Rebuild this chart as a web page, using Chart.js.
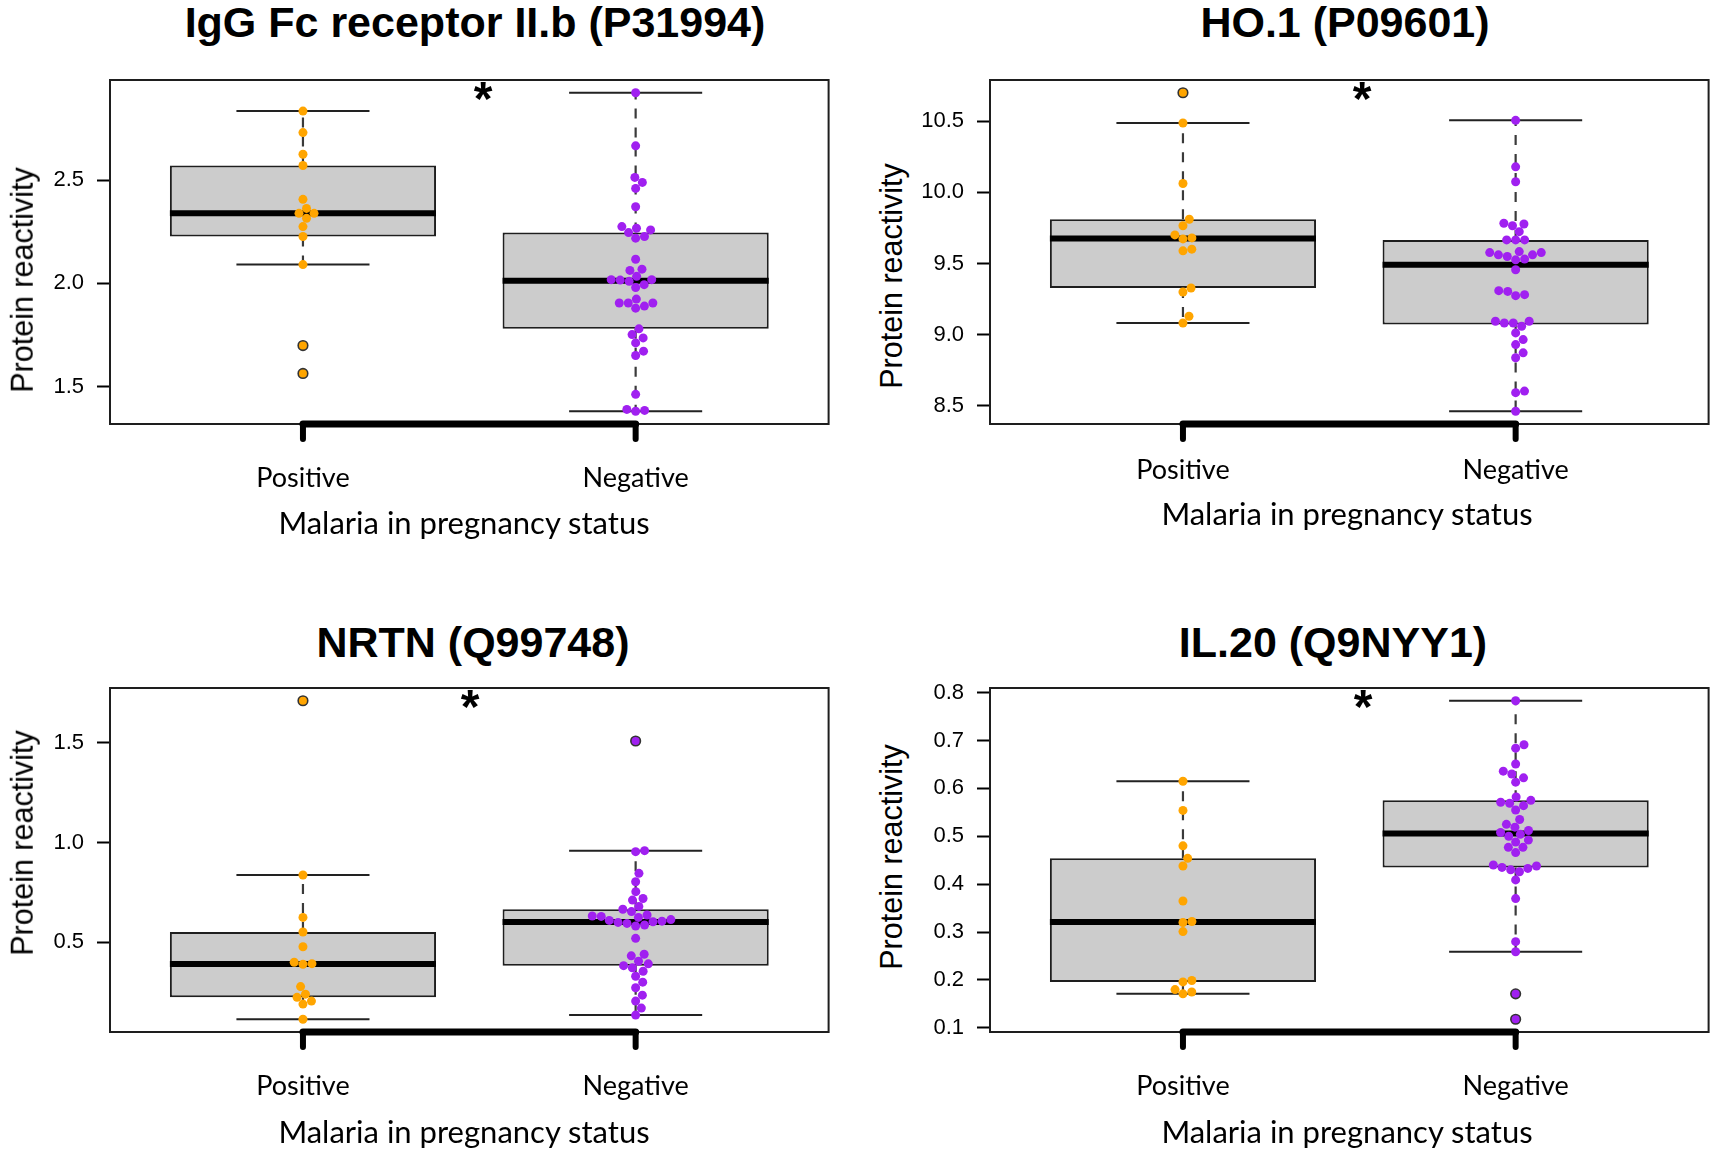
<!DOCTYPE html>
<html><head><meta charset="utf-8">
<script src="https://cdn.jsdelivr.net/npm/chart.js@4.4.1/dist/chart.umd.min.js"></script>
<style>
html,body{margin:0;padding:0;background:#fff;overflow:hidden;}
#wrap{position:relative;width:1713px;height:1149px;background:#fff;overflow:hidden;}
canvas{position:absolute;}
.t{position:absolute;white-space:nowrap;line-height:1;color:#000;transform:translate(-50%,-50%);}
.title{font-family:"Liberation Sans",Arial,sans-serif;font-weight:bold;font-size:43px;}
.ylab{font-family:"Liberation Sans",Arial,sans-serif;font-size:30.5px;transform:translate(-50%,-50%) rotate(-90deg);}
.xlab{font-family:Lato,sans-serif;font-size:31px;}
.star{font-family:"Liberation Sans",Arial,sans-serif;font-weight:bold;font-size:48px;}
</style></head><body><div id="wrap"></div>
<script>
// ---------- data ----------
const groups = ['Positive', 'Negative'];
const titles = ['IgG Fc receptor II.b (P31994)', 'HO.1 (P09601)', 'NRTN (Q99748)', 'IL.20 (Q9NYY1)'];
const yTitle = 'Protein reactivity';
const xTitle = 'Malaria in pregnancy status';
const sigMark = '*';

const igg_pos = [2.834, 2.730, 2.625, 2.571, 2.407, 2.363, 2.339, 2.339, 2.315, 2.275, 2.227, 2.091, 1.699, 1.564];
const igg_neg = [2.923, 2.666, 2.513, 2.489, 2.460, 2.371, 2.275, 2.267, 2.259, 2.246, 2.227, 2.219, 2.117, 2.069, 2.063, 2.034, 2.018, 2.018, 2.016, 2.010, 1.994, 1.980, 1.924, 1.905, 1.905, 1.905, 1.890, 1.880, 1.780, 1.752, 1.736, 1.712, 1.672, 1.651, 1.463, 1.390, 1.385, 1.381];
const igg_ticks = [1.5, 2.0, 2.5];

const ho_pos = [10.701, 10.488, 10.063, 9.811, 9.766, 9.701, 9.680, 9.673, 9.601, 9.589, 9.328, 9.300, 9.129, 9.082];
const ho_neg = [10.507, 10.180, 10.075, 9.783, 9.778, 9.766, 9.724, 9.666, 9.666, 9.666, 9.584, 9.577, 9.577, 9.561, 9.561, 9.549, 9.531, 9.526, 9.456, 9.309, 9.304, 9.281, 9.274, 9.094, 9.094, 9.082, 9.082, 9.059, 9.012, 8.965, 8.930, 8.872, 8.837, 8.603, 8.592, 8.461];
const ho_ticks = [8.5, 9.0, 9.5, 10.0, 10.5];

const nrtn_pos = [1.712, 0.838, 0.625, 0.552, 0.478, 0.400, 0.393, 0.390, 0.278, 0.240, 0.224, 0.205, 0.190, 0.114];
const nrtn_neg = [1.510, 0.960, 0.955, 0.846, 0.804, 0.754, 0.720, 0.712, 0.680, 0.666, 0.654, 0.637, 0.632, 0.630, 0.625, 0.614, 0.610, 0.606, 0.603, 0.600, 0.595, 0.587, 0.582, 0.520, 0.440, 0.432, 0.405, 0.392, 0.383, 0.372, 0.355, 0.330, 0.300, 0.272, 0.235, 0.205, 0.170, 0.135];
const nrtn_ticks = [0.5, 1.0, 1.5];

const il_pos = [0.615, 0.554, 0.480, 0.454, 0.438, 0.365, 0.322, 0.320, 0.301, 0.199, 0.196, 0.180, 0.175, 0.171];
const il_neg = [0.783, 0.691, 0.684, 0.651, 0.636, 0.630, 0.622, 0.613, 0.582, 0.575, 0.571, 0.569, 0.564, 0.555, 0.535, 0.525, 0.519, 0.512, 0.508, 0.504, 0.500, 0.492, 0.488, 0.477, 0.477, 0.466, 0.440, 0.438, 0.435, 0.433, 0.430, 0.426, 0.409, 0.370, 0.280, 0.259, 0.171, 0.118];
const il_ticks = [0.1, 0.2, 0.3, 0.4, 0.5, 0.6, 0.7, 0.8];

// ---------- layout / style ----------
const groupColors = ['#FFA500', '#A020F0'];
const PW = 721, PH = 344, YAX = 80, XAX = 80, PADT = 10, PADR = 4;
const panels = [
  {title: titles[0], data: [igg_pos, igg_neg], ticks: igg_ticks, L: 110, T: 80, tXY: [475, 22], yXY: [22, 280], xXY: [464, 522], sXY: [483, 99], tickPad: 20},
  {title: titles[1], data: [ho_pos, ho_neg], ticks: ho_ticks, L: 990, T: 80, tXY: [1345, 22], yXY: [891, 276], xXY: [1347, 513], sXY: [1362, 99], tickPad: 12},
  {title: titles[2], data: [nrtn_pos, nrtn_neg], ticks: nrtn_ticks, L: 110, T: 688, tXY: [473, 642], yXY: [22, 843], xXY: [464, 1131], sXY: [470, 707], tickPad: 20},
  {title: titles[3], data: [il_pos, il_neg], ticks: il_ticks, L: 990, T: 688, tXY: [1333, 642], yXY: [891, 857], xXY: [1347, 1131], sXY: [1363, 707], tickPad: 20}
];

// ---------- helpers ----------
function fivenum(a) {
  const x = [...a].sort((p, q) => p - q), n = x.length;
  const n4 = Math.floor((n + 3) / 2) / 2;
  return [1, n4, (n + 1) / 2, n + 1 - n4, n].map(d => 0.5 * (x[Math.floor(d) - 1] + x[Math.ceil(d) - 1]));
}
function boxStats(vals) {
  const f = fivenum(vals), iqr = f[3] - f[1];
  const loF = f[1] - 1.5 * iqr, hiF = f[3] + 1.5 * iqr;
  const inside = vals.filter(v => v >= loF && v <= hiF);
  return {q1: f[1], med: f[2], q3: f[3], lo: Math.min(...inside), hi: Math.max(...inside), isOut: v => v < loF || v > hiF};
}
function swarm(yPix, vals, d) {
  const order = vals.map((v, i) => i).sort((a, b) => vals[a] - vals[b]);
  const placed = [], off = new Array(vals.length).fill(0);
  for (const i of order) {
    const y = yPix[i];
    const near = placed.filter(p => Math.abs(p.y - y) < d);
    const cands = [0];
    near.forEach(p => { const dx = Math.sqrt(d * d - (p.y - y) ** 2); cands.push(p.x + dx, p.x - dx); });
    cands.sort((a, b) => (Math.abs(a) - Math.abs(b)) || (b - a));
    let best = 0;
    for (const c of cands) {
      if (near.every(p => (p.x - c) ** 2 + (p.y - y) ** 2 >= d * d - 0.01)) { best = c; break; }
    }
    placed.push({x: best, y}); off[i] = best;
  }
  return off;
}
const framePlugin = {
  id: 'frame',
  afterDraw(chart) {
    const {ctx, chartArea: a, scales: {x}} = chart;
    ctx.save();
    ctx.strokeStyle = '#1e1e1e'; ctx.lineWidth = 2;
    ctx.strokeRect(a.left, a.top, a.right - a.left, a.bottom - a.top);
    const tks = x.ticks.map(t => x.getPixelForValue(t.value));
    ctx.strokeStyle = '#000'; ctx.lineCap = 'round';
    ctx.lineWidth = 7;
    ctx.beginPath(); ctx.moveTo(tks[0], a.bottom); ctx.lineTo(tks[tks.length - 1], a.bottom); ctx.stroke();
    ctx.lineWidth = 6;
    tks.forEach(px => { ctx.beginPath(); ctx.moveTo(px, a.bottom); ctx.lineTo(px, a.bottom + 15); ctx.stroke(); });
    ctx.restore();
  }
};

const wrap = document.getElementById('wrap');
function addText(cls, txt, xy) {
  const d = document.createElement('div');
  d.className = 't ' + cls; d.textContent = txt;
  d.style.left = xy[0] + 'px'; d.style.top = xy[1] + 'px';
  wrap.appendChild(d);
}

panels.forEach(p => {
  const cv = document.createElement('canvas');
  const cw = YAX + PW + PADR, ch = PADT + PH + XAX;
  cv.width = cw; cv.height = ch;
  cv.style.width = cw + 'px'; cv.style.height = ch + 'px';
  cv.style.left = (p.L - YAX) + 'px'; cv.style.top = (p.T - PADT) + 'px';
  wrap.appendChild(cv);

  const all = p.data.flat();
  const lo = Math.min(...all), hi = Math.max(...all), pad = 0.04 * (hi - lo);
  const nG = groups.length, xpad = 0.04 * nG;
  const stats = p.data.map(boxStats);
  const gap = x => ({x, y: null});

  const datasets = [
    {type: 'bar', data: stats.map((s, i) => ({x: i + 1, y: [s.q1, s.q3]})),
     backgroundColor: '#cccccc', borderColor: '#1e1e1e', borderWidth: 2, borderSkipped: false,
     categoryPercentage: 0.8, barPercentage: 1, order: 10},
    {type: 'line', data: stats.flatMap((s, i) => [{x: i + 1, y: s.q3}, {x: i + 1, y: s.hi}, gap(i + 1), {x: i + 1, y: s.q1}, {x: i + 1, y: s.lo}, gap(i + 1)]),
     borderColor: '#3a3a3a', borderWidth: 2.2, borderDash: [10, 9], pointRadius: 0, spanGaps: false, fill: false, order: 9},
    {type: 'line', data: stats.flatMap((s, i) => [{x: i + 0.8, y: s.hi}, {x: i + 1.2, y: s.hi}, gap(i + 1), {x: i + 0.8, y: s.lo}, {x: i + 1.2, y: s.lo}, gap(i + 1)]),
     borderColor: '#222', borderWidth: 2, pointRadius: 0, spanGaps: false, fill: false, order: 8},
    {type: 'line', data: stats.flatMap((s, i) => [{x: i + 0.6, y: s.med}, {x: i + 1.4, y: s.med}, gap(i + 1)]),
     borderColor: '#000', borderWidth: 6, pointRadius: 0, spanGaps: false, fill: false, order: 7}
  ];
  const ptSets = [];
  p.data.forEach((vals, gi) => {
    const s = stats[gi];
    const normal = {type: 'scatter', data: vals.filter(v => !s.isOut(v)).map(v => ({x: gi + 1, y: v})),
      backgroundColor: groupColors[gi], borderColor: groupColors[gi], borderWidth: 0, pointRadius: 4.5, pointHoverRadius: 4.5, order: 2};
    const outl = {type: 'scatter', data: vals.filter(v => s.isOut(v)).map(v => ({x: gi + 1, y: v})),
      backgroundColor: groupColors[gi], borderColor: '#333', borderWidth: 1.6, pointRadius: 4.8, pointHoverRadius: 4.8, order: 1};
    datasets.push(normal, outl);
    ptSets.push([normal, outl]);
  });

  const chart = new Chart(cv, {
    type: 'bar',
    data: {datasets},
    plugins: [framePlugin],
    options: {
      responsive: false, animation: false, events: [],
      layout: {padding: {top: PADT, right: PADR, left: 0, bottom: 0}},
      plugins: {legend: {display: false}, tooltip: {enabled: false}, title: {display: false}},
      scales: {
        x: {
          type: 'linear', min: 0.5 - xpad, max: nG + 0.5 + xpad, offset: false,
          afterBuildTicks: sc => { sc.ticks = groups.map((g, i) => ({value: i + 1})); },
          afterFit: sc => { sc.height = XAX; sc.paddingLeft = 0; sc.paddingRight = 0; },
          ticks: {callback: (v, i) => groups[i], autoSkip: false, maxRotation: 0, padding: p.tickPad,
                  font: {family: 'Lato', size: 27}, color: '#000'},
          grid: {display: true, drawOnChartArea: false, drawTicks: true, tickLength: 18, tickColor: 'rgba(0,0,0,0)', offset: false},
          border: {display: false}
        },
        y: {
          type: 'linear', min: lo - pad, max: hi + pad, beginAtZero: false,
          afterBuildTicks: sc => { sc.ticks = p.ticks.map(v => ({value: v})); },
          afterFit: sc => { sc.width = YAX; sc.paddingTop = 0; sc.paddingBottom = 0; },
          ticks: {callback: v => Number(v).toFixed(1), padding: 13, font: {family: 'Liberation Sans', size: 22}, color: '#000'},
          grid: {display: true, drawOnChartArea: false, drawTicks: true, tickLength: 13, tickWidth: 2, tickColor: '#000'},
          border: {display: false}
        }
      }
    }
  });

  // beeswarm placement computed through the chart's scales
  const xs = chart.scales.x, ys = chart.scales.y;
  p.data.forEach((vals, gi) => {
    const s = stats[gi];
    const yPix = vals.map(v => ys.getPixelForValue(v));
    const off = swarm(yPix, vals, 9);
    const cx = xs.getPixelForValue(gi + 1);
    const pts = vals.map((v, k) => ({x: xs.getValueForPixel(cx + off[k]), y: v, out: s.isOut(v)}));
    ptSets[gi][0].data = pts.filter(q => !q.out).map(q => ({x: q.x, y: q.y}));
    ptSets[gi][1].data = pts.filter(q => q.out).map(q => ({x: q.x, y: q.y}));
  });
  chart.update('none');

  addText('title', p.title, p.tXY);
  addText('ylab', yTitle, p.yXY);
  addText('xlab', xTitle, p.xXY);
  addText('star', sigMark, p.sXY);
});
</script></body></html>
